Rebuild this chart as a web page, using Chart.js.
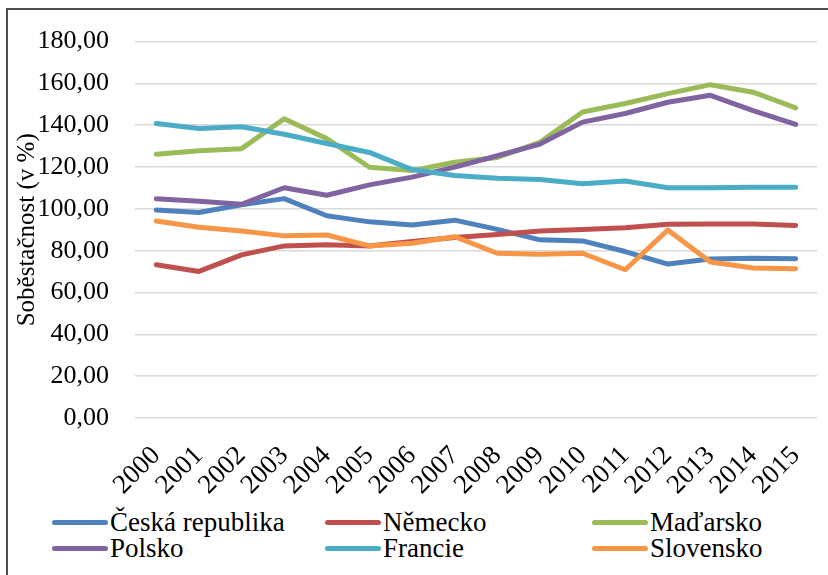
<!DOCTYPE html>
<html>
<head>
<meta charset="utf-8">
<script src="https://cdn.jsdelivr.net/npm/chart.js@4"></script>
<style>
  html, body { margin: 0; padding: 0; background: #fff; }
  #wrap { position: relative; width: 828px; height: 575px; overflow: hidden; }
  #frame { position: absolute; left: 6px; top: 8px; width: 840px; height: 600px; border: 2px solid #4d4d4d; box-sizing: border-box; }
  #chart { position: absolute; left: 0; top: 0; }
  .lg { position: absolute; display: flex; align-items: center; font-family: 'Liberation Serif', 'Times New Roman', serif; font-size: 27px; line-height: 26px; color: #000; white-space: nowrap; }
  .lg .sw { display: inline-block; width: 56px; height: 5px; border-radius: 3px; margin-right: 2px; }
</style>
</head>
<body>
<div id="wrap">
  <div id="frame"></div>
  <canvas id="chart" width="828" height="505"></canvas>
  <div id="legend"></div>
</div>
<script>
const years = ['2000', '2001', '2002', '2003', '2004', '2005', '2006', '2007',
  '2008', '2009', '2010', '2011', '2012', '2013', '2014', '2015'];

const cesko = [99.5, 98.3, 102.0, 104.9, 96.7, 93.8, 92.3, 94.6, 90.2, 85.2, 84.7, 79.6, 73.6, 76.0, 76.4, 76.2];
const nemecko = [73.3, 70.1, 78.0, 82.3, 82.8, 82.3, 84.4, 86.3, 87.8, 89.4, 90.2, 91.0, 92.6, 92.8, 92.8, 92.1];
const madarsko = [126.1, 127.8, 128.8, 143.1, 133.6, 119.9, 118.3, 122.3, 124.6, 131.8, 146.3, 150.4, 155.1, 159.4, 155.8, 148.3];
const polsko = [104.9, 103.6, 102.2, 110.1, 106.5, 111.5, 115.2, 120.0, 125.4, 131.0, 141.5, 145.6, 151.0, 154.3, 147.0, 140.4];
const francie = [140.8, 138.4, 139.3, 135.7, 131.3, 127.0, 118.8, 116.0, 114.7, 114.1, 112.0, 113.3, 110.1, 110.1, 110.3, 110.4];
const slovensko = [94.2, 91.2, 89.4, 87.1, 87.5, 82.3, 83.6, 86.7, 78.8, 78.3, 78.8, 70.9, 89.9, 74.6, 71.7, 71.4];

const seriesNames = ['Česká republika', 'Německo', 'Maďarsko', 'Polsko', 'Francie', 'Slovensko'];
const seriesData = [cesko, nemecko, madarsko, polsko, francie, slovensko];
const seriesColors = ['#4F81BD', '#C0504D', '#9BBB59', '#8064A2', '#4BACC6', '#F79646'];

const fontFamily = "'Liberation Serif', 'Times New Roman', serif";

const datasets = seriesNames.map((name, i) => ({
  label: name,
  data: seriesData[i],
  borderColor: seriesColors[i],
  backgroundColor: seriesColors[i],
  borderWidth: 5,
  pointRadius: 0,
  tension: 0,
  fill: false,
  borderCapStyle: 'round',
  borderJoinStyle: 'round',
  // later series on top, like the original
  order: seriesNames.length - i,
}));

new Chart(document.getElementById('chart'), {
  type: 'line',
  data: { labels: years, datasets },
  options: {
    responsive: false,
    animation: false,
    layout: { padding: { top: 38, right: 11, bottom: 0, left: 0 } },
    plugins: { legend: { display: false }, tooltip: { enabled: false } },
    scales: {
      x: {
        offset: true,
        grid: { display: false, drawTicks: false },
        border: { display: false },
        ticks: {
          color: '#000',
          font: { family: fontFamily, size: 27 },
          minRotation: 45,
          maxRotation: 45,
          autoSkip: false,
          padding: 22,
        },
        afterFit: s => {
          s.height = 87;
          // rotated labels would otherwise eat into the plot width
          s.paddingLeft = 0;
          s.paddingRight = 0;
        },
      },
      y: {
        min: 0,
        max: 180,
        grid: { color: '#d9d9d9', lineWidth: 1.5, drawTicks: false },
        border: { display: false },
        ticks: {
          stepSize: 20,
          color: '#000',
          font: { family: fontFamily, size: 26 },
          padding: 26,
          callback: v => v.toFixed(2).replace('.', ','),
        },
        title: {
          display: true,
          text: 'Soběstačnost (v %)',
          color: '#000',
          font: { family: fontFamily, size: 25 },
          padding: { top: 12, bottom: 0 },
        },
        afterFit: s => { s.width = 135; },
      },
    },
  },
});

// legend laid out in three columns, two rows
const legendEl = document.getElementById('legend');
const colX = [52, 325, 592];
const rowY = [509, 535];
seriesNames.forEach((name, i) => {
  const item = document.createElement('div');
  item.className = 'lg';
  item.style.left = colX[i % 3] + 'px';
  item.style.top = rowY[Math.floor(i / 3)] + 'px';
  const sw = document.createElement('span');
  sw.className = 'sw';
  sw.style.background = seriesColors[i];
  item.appendChild(sw);
  item.appendChild(document.createTextNode(name));
  legendEl.appendChild(item);
});
</script>
</body>
</html>
